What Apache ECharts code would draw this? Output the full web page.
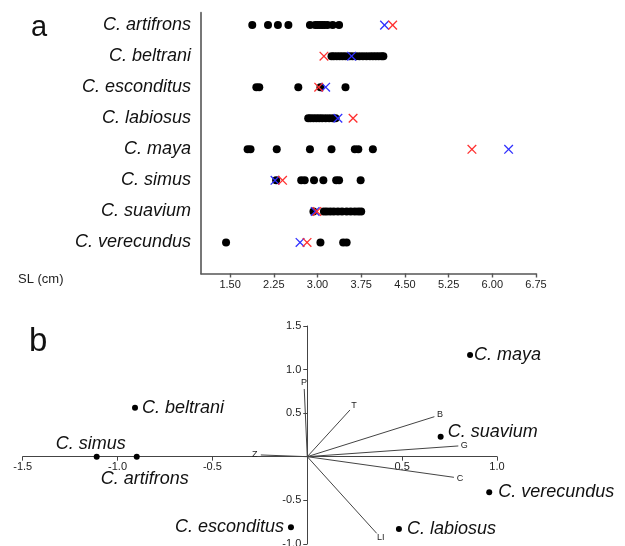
<!DOCTYPE html>
<html>
<head>
<meta charset="utf-8">
<script src="https://cdn.jsdelivr.net/npm/echarts@6/dist/echarts.min.js"></script>
<style>
html,body{margin:0;padding:0;background:#fff;}
#chart{width:625px;height:546px;}
</style>
</head>
<body>
<div id="chart"></div>
<script>
// ---------- Panel a data ----------
const categories = ['C. artifrons','C. beltrani','C. esconditus','C. labiosus','C. maya','C. simus','C. suavium','C. verecundus'];
const slArtifrons = [1.88, 2.15, 2.32, 2.50, 2.87, 2.96, 3.00, 3.04, 3.08, 3.12, 3.17, 3.26, 3.37];
const slBeltrani = [3.24, 3.28, 3.33, 3.38, 3.43, 3.48, 3.55, 3.60, 3.66, 3.72, 3.78, 3.84, 3.90, 3.95, 4.00, 4.05, 4.10, 4.13];
const slEsconditus = [1.95, 2.00, 2.67, 3.05, 3.48];
const slLabiosus = [2.84, 2.88, 2.93, 2.98, 3.03, 3.08, 3.14, 3.20, 3.26, 3.31];
const slMaya = [1.80, 1.85, 2.30, 2.87, 3.24, 3.64, 3.70, 3.95];
const slSimus = [2.29, 2.72, 2.78, 2.94, 3.10, 3.32, 3.37, 3.74];
const slSuavium = [2.93, 3.11, 3.16, 3.22, 3.28, 3.35, 3.42, 3.50, 3.57, 3.64, 3.70, 3.75];
const slVerecundus = [1.43, 3.05, 3.44, 3.50];
const markRed = [4.29, 3.11, 3.02, 3.61, 5.65, 2.40, 2.99, 2.82];
const markBlue = [4.15, 3.585, 3.14, 3.35, 6.28, 2.27, 2.96, 2.70];
const slTicks = [1.50, 2.25, 3.00, 3.75, 4.50, 5.25, 6.00, 6.75];

// ---------- Panel b data ----------
const pcaSpecies = ['C. beltrani','C. simus','C. artifrons','C. esconditus','C. maya','C. suavium','C. verecundus','C. labiosus'];
const pcaX = [-0.908, -1.110, -0.899, -0.086, 0.858, 0.703, 0.959, 0.483];
const pcaY = [0.563, 0.000, 0.000, -0.811, 1.168, 0.230, -0.409, -0.830];
const vectorNames = ['P','T','B','G','C','LI','Z'];
const vectorX = [-0.016, 0.225, 0.670, 0.796, 0.773, 0.366, -0.245];
const vectorY = [0.777, 0.536, 0.459, 0.123, -0.237, -0.880, 0.020];

// ---------- layout / style (not data) ----------
const FONT = 'Liberation Sans, Arial, Helvetica, sans-serif';
const speciesLabelLayout = {
  'C. beltrani':   {position:'right', distance:4},
  'C. simus':      {position:'top', distance:5, offset:[-6,4]},
  'C. artifrons':  {position:'bottom', distance:5, offset:[8,5]},
  'C. esconditus': {position:'left', distance:4},
  'C. maya':       {position:'right', distance:1},
  'C. suavium':    {position:'right', distance:4, offset:[0,-5]},
  'C. verecundus': {position:'right', distance:6},
  'C. labiosus':   {position:'right', distance:5}
};
const G2 = {left:22.7, top:326, width:474.3, height:217.8};
const X2 = {min:-1.5, max:1.0};
const Y2 = {min:-1.0, max:1.5};
// shift the panel-b axes so they cross at (0,0)
const x2Offset = -(G2.height * (0 - Y2.min) / (Y2.max - Y2.min));
const y2Offset = -(G2.width * (0 - X2.min) / (X2.max - X2.min));

const slValues = [slArtifrons, slBeltrani, slEsconditus, slLabiosus, slMaya, slSimus, slSuavium, slVerecundus];
const nCat = categories.length;
const rowOf = i => nCat - i;

const dotData = [];
slValues.forEach((arr, i) => arr.forEach(v => dotData.push([v, rowOf(i)])));
const redData = markRed.map((v, i) => [v, rowOf(i)]);
const blueData = markBlue.map((v, i) => [v, rowOf(i)]);
const rowValues = categories.map((c, i) => rowOf(i));

function crossRender(color) {
  return function (params, api) {
    const p = api.coord([api.value(0), api.value(1)]);
    const h = 4.3;
    return {
      type: 'group',
      children: [
        {type:'line', shape:{x1:p[0]-h, y1:p[1]-h, x2:p[0]+h, y2:p[1]+h}, style:{stroke:color, lineWidth:1.3}},
        {type:'line', shape:{x1:p[0]-h, y1:p[1]+h, x2:p[0]+h, y2:p[1]-h}, style:{stroke:color, lineWidth:1.3}}
      ]
    };
  };
}

const speciesData = pcaSpecies.map((name, i) => {
  const L = speciesLabelLayout[name];
  return {
    name: name,
    value: [pcaX[i], pcaY[i]],
    label: Object.assign({show:true}, L)
  };
});
const vectorData = vectorNames.map((n, i) => ({name:n, value:[vectorX[i], vectorY[i]]}));
const fmt1 = v => (Math.abs(v) < 1e-9 ? '' : Number(v).toFixed(1));

const option = {
  animation: false,
  backgroundColor: '#fff',
  grid: [
    {left:201, top:12.7, width:335, height:260.8, outerBoundsMode:'none', containLabel:false},
    Object.assign({outerBoundsMode:'none', containLabel:false}, G2)
  ],
  xAxis: [
    {
      gridIndex:0, type:'value', min:1.0, max:6.75,
      axisLine:{show:true, onZero:false, lineStyle:{color:'#555', width:1.6}},
      axisTick:{show:true, customValues:slTicks, length:4, lineStyle:{color:'#555', width:1.4}},
      axisLabel:{show:true, customValues:slTicks, formatter:v => Number(v).toFixed(2), fontSize:11, color:'#222', margin:6, fontFamily:FONT},
      splitLine:{show:false}
    },
    {
      gridIndex:1, type:'value', min:X2.min, max:X2.max, interval:0.5,
      position:'bottom', offset:x2Offset,
      axisLine:{show:true, onZero:false, lineStyle:{color:'#444', width:1}},
      axisTick:{show:true, length:4, lineStyle:{color:'#444', width:1}},
      axisLabel:{show:true, formatter:fmt1, fontSize:11, color:'#222', margin:5, fontFamily:FONT},
      splitLine:{show:false}
    }
  ],
  yAxis: [
    {
      gridIndex:0, type:'value', min:0, max:8.4,
      axisLine:{show:true, onZero:false, lineStyle:{color:'#777', width:2}},
      axisTick:{show:false},
      axisLabel:{show:true, customValues:rowValues, formatter:v => categories[nCat - Math.round(v)], fontSize:18, fontStyle:'italic', color:'#111', margin:10, fontFamily:FONT},
      splitLine:{show:false}
    },
    {
      gridIndex:1, type:'value', min:Y2.min, max:Y2.max, interval:0.5,
      position:'left', offset:y2Offset,
      axisLine:{show:true, onZero:false, lineStyle:{color:'#444', width:1}},
      axisTick:{show:true, length:4, lineStyle:{color:'#444', width:1}},
      axisLabel:{show:true, formatter:fmt1, fontSize:11, color:'#222', margin:6, fontFamily:FONT},
      splitLine:{show:false}
    }
  ],
  series: [
    {
      type:'scatter', xAxisIndex:0, yAxisIndex:0, data:dotData,
      symbol:'circle', symbolSize:8, itemStyle:{color:'#000', opacity:1}, z:2
    },
    {
      type:'custom', xAxisIndex:0, yAxisIndex:0, coordinateSystem:'cartesian2d',
      data:blueData, encode:{x:0, y:1}, renderItem:crossRender('#2f2fff'), z:3
    },
    {
      type:'custom', xAxisIndex:0, yAxisIndex:0, coordinateSystem:'cartesian2d',
      data:redData, encode:{x:0, y:1}, renderItem:crossRender('#ff2f2f'), z:4
    },
    {
      type:'custom', xAxisIndex:1, yAxisIndex:1, coordinateSystem:'cartesian2d',
      data:vectorData, encode:{x:0, y:1}, z:2,
      renderItem:function (params, api) {
        const p0 = api.coord([0, 0]);
        const p1 = api.coord([api.value(0), api.value(1)]);
        const dx = p1[0] - p0[0], dy = p1[1] - p0[1];
        const len = Math.sqrt(dx*dx + dy*dy) || 1;
        const lx = p1[0] + dx/len*6, ly = p1[1] + dy/len*6;
        return {
          type:'group',
          children:[
            {type:'line', shape:{x1:p0[0], y1:p0[1], x2:p1[0], y2:p1[1]}, style:{stroke:'#444', lineWidth:1}},
            {type:'text', x:lx, y:ly, style:{text:vectorNames[params.dataIndex], fill:'#222', font:'9px ' + FONT, align:'center', verticalAlign:'middle'}}
          ]
        };
      }
    },
    {
      type:'scatter', xAxisIndex:1, yAxisIndex:1, data:speciesData,
      symbol:'circle', symbolSize:6, itemStyle:{color:'#000', opacity:1}, z:3,
      label:{show:true, formatter:'{b}', fontSize:18, fontStyle:'italic', color:'#111', fontFamily:FONT}
    }
  ],
  graphic: [
    {type:'text', x:31, y:28, style:{text:'a', font:'29px ' + FONT, fill:'#111', verticalAlign:'middle'}},
    {type:'text', x:29, y:342, style:{text:'b', font:'33px ' + FONT, fill:'#111', verticalAlign:'middle'}},
    {type:'text', x:18, y:279, style:{text:'SL (cm)', font:'13px ' + FONT, fill:'#222', verticalAlign:'middle'}}
  ]
};

const chart = echarts.init(document.getElementById('chart'), null, {renderer:'canvas'});
chart.setOption(option);
</script>
</body>
</html>
